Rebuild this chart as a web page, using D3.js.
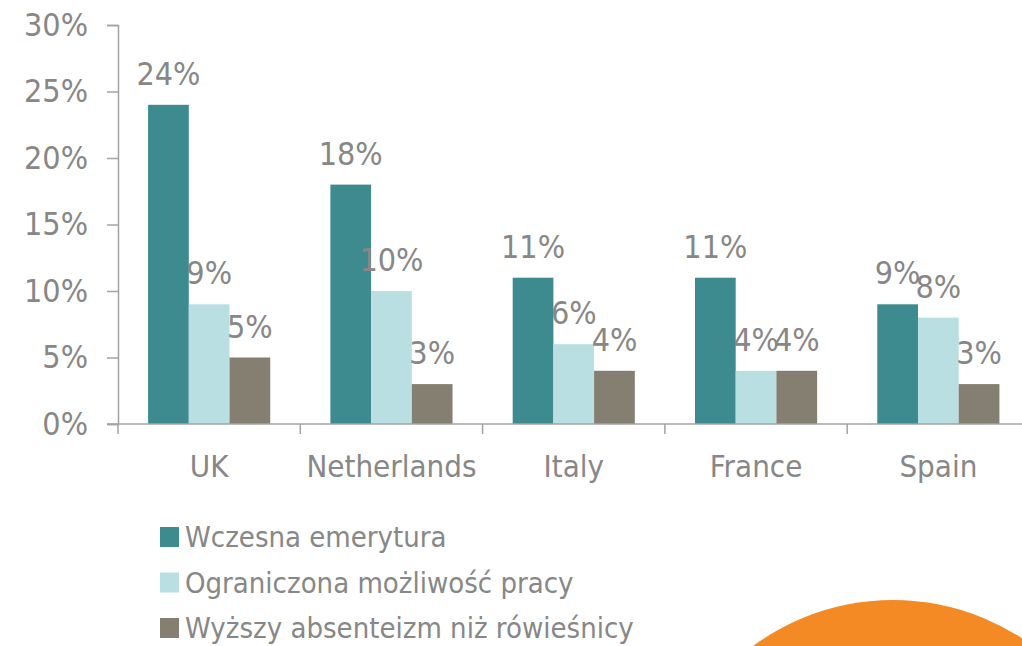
<!DOCTYPE html>
<html>
<head>
<meta charset="utf-8">
<script src="https://cdn.jsdelivr.net/npm/d3@7"></script>
<style>
  html, body { margin: 0; padding: 0; background: #fff; }
  svg text { font-family: 'DejaVu Sans Condensed', 'DejaVu Sans', sans-serif; fill: #878787; }
</style>
</head>
<body>
<svg id="chart" width="1022" height="646"></svg>
<script>
  // Chart data
  const countries = ['UK', 'Netherlands', 'Italy', 'France', 'Spain'];
  const seriesNames = ['Wczesna emerytura', 'Ograniczona możliwość pracy', 'Wyższy absenteizm niż rówieśnicy'];
  const earlyRetirement = [24, 18, 11, 11, 9];
  const limitedWork = [9, 10, 6, 4, 8];
  const absenteeism = [5, 3, 4, 4, 3];
  const yTicks = [0, 5, 10, 15, 20, 25, 30];

  const colors = ['#3d8a8f', '#b9dfe3', '#847f70'];
  const series = [earlyRetirement, limitedWork, absenteeism];

  const svg = d3.select('#chart');

  // decorative orange circle in the corner
  svg.append('circle')
    .attr('cx', 893)
    .attr('cy', 836)
    .attr('r', 236)
    .attr('fill', '#f38a24');

  const x0 = d3.scaleBand()
    .domain(countries)
    .range([118, 1029.5])
    .paddingInner(0.33)
    .paddingOuter(0.165);

  const x1 = d3.scaleBand()
    .domain(d3.range(series.length))
    .range([0, x0.bandwidth()]);

  const y = d3.scaleLinear()
    .domain([0, 30])
    .range([424, 25]);

  // Bars
  series.forEach((values, si) => {
    svg.append('g')
      .selectAll('rect')
      .data(values)
      .join('rect')
      .attr('x', (d, i) => x0(countries[i]) + x1(si))
      .attr('y', d => y(d))
      .attr('width', x1.bandwidth())
      .attr('height', d => y(0) - y(d))
      .attr('fill', colors[si]);
  });

  // Value labels
  series.forEach((values, si) => {
    svg.append('g')
      .selectAll('text')
      .data(values)
      .join('text')
      .attr('x', (d, i) => x0(countries[i]) + x1(si) + x1.bandwidth() / 2)
      .attr('y', d => y(d) - 20)
      .attr('text-anchor', 'middle')
      .style('font-size', '32px')
      .text(d => d + '%');
  });

  // Y axis
  const yAxis = svg.append('g')
    .attr('transform', 'translate(118,0)')
    .call(d3.axisLeft(y).tickValues(yTicks).tickSize(11).tickPadding(19).tickFormat(d => d + '%'));
  yAxis.selectAll('text').style('font-size', '32px');

  // X axis
  const xAxis = svg.append('g')
    .attr('transform', `translate(0,${y(0)})`)
    .call(d3.axisBottom(x0).tickSize(0).tickPadding(31));
  xAxis.selectAll('text').style('font-size', '31px');

  // category separator ticks
  const sepTicks = countries.map(c => x0(c) - x0.step() * 0.165);
  xAxis.selectAll('.sep')
    .data(sepTicks)
    .join('line')
    .attr('class', 'sep')
    .attr('x1', d => d)
    .attr('x2', d => d)
    .attr('y1', 0)
    .attr('y2', 10);

  xAxis.select('.domain').attr('d', 'M107,0H1022');

  svg.selectAll('.domain, .tick line, .sep')
    .attr('stroke', '#a3a3a3')
    .attr('stroke-width', 1.5);

  // Legend
  const legend = svg.append('g')
    .selectAll('g')
    .data(seriesNames)
    .join('g')
    .attr('transform', (d, i) => `translate(160,${537 + i * 45.5})`);

  legend.append('rect')
    .attr('x', 0)
    .attr('y', -10)
    .attr('width', 19)
    .attr('height', 20)
    .attr('fill', (d, i) => colors[i]);

  legend.append('text')
    .attr('x', 25)
    .attr('y', 0)
    .attr('dy', '0.35em')
    .style('font-size', '29px')
    .text(d => d);
</script>
</body>
</html>
